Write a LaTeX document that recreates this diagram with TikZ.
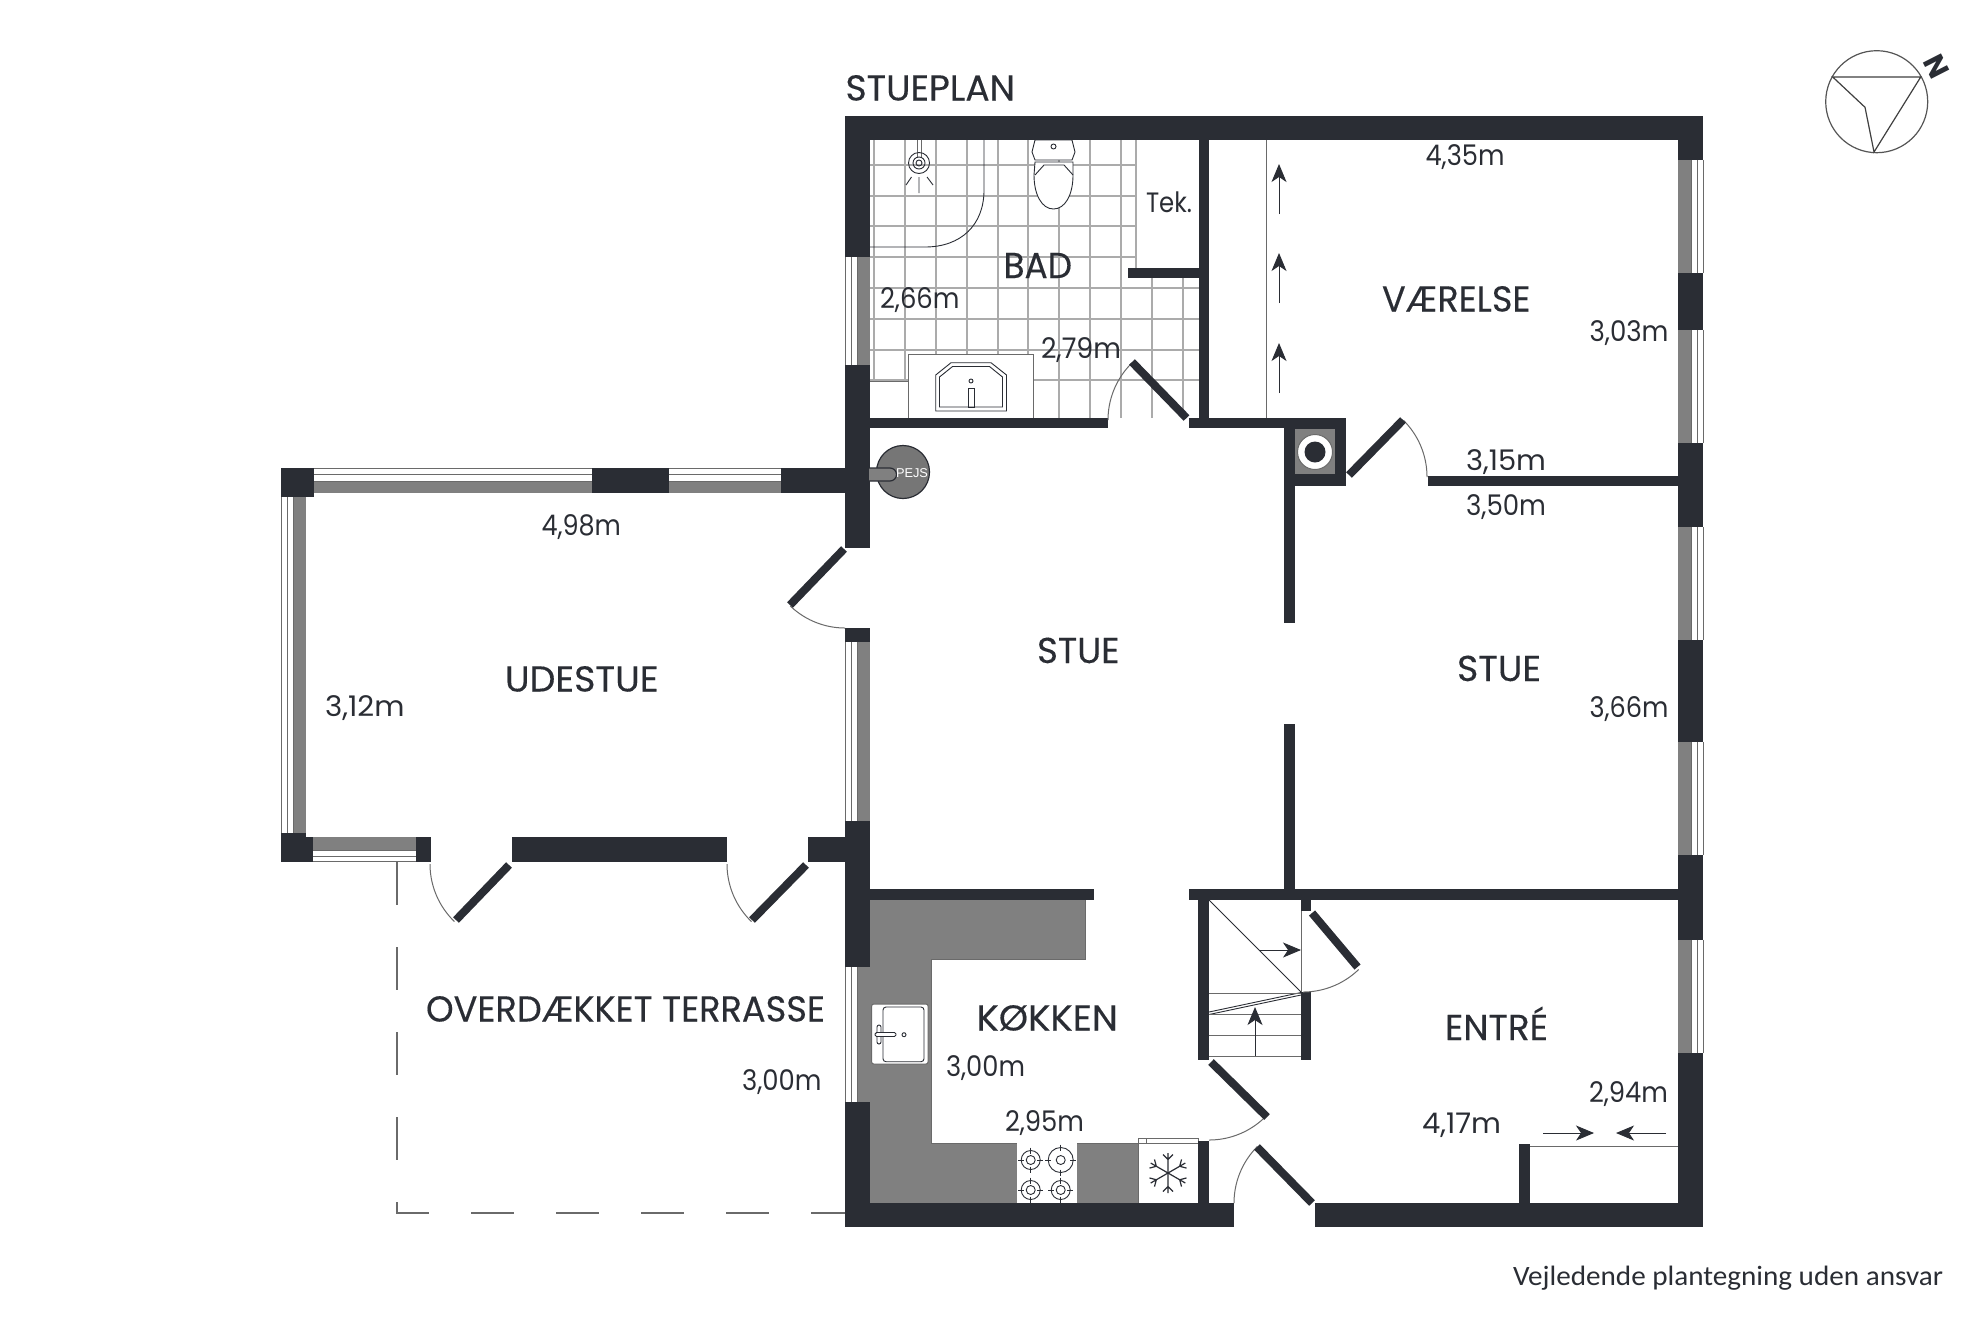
\documentclass[tikz,border=0pt]{standalone}
\usepackage{graphicx}
\usepackage{fontspec}
\setmainfont{Poppins}
\newfontfamily\footfont{Carlito}
\newfontfamily\arialfont{Liberation Sans}
\usetikzlibrary{arrows.meta}
\definecolor{wallc}{HTML}{2A2D34}
\definecolor{greyc}{HTML}{808080}
\definecolor{linec}{HTML}{6A6A6A}
\definecolor{tilec}{HTML}{ABABAB}
\newcommand{\hv}{\addfontfeature{FakeBold=0.3}}
\newsavebox\fitbox
% name, left x, right x, baseline y, font size, text
\newcommand{\lab}[6]{%
  \node[inner sep=0pt,outer sep=0pt,anchor=base west] (#1) at (#2,#4) {%
  \sbox\fitbox{\fontsize{#5}{#5}\selectfont\color{wallc}#6}%
  \pgfmathsetmacro\fitfac{(#3-#2)*0.5/\wd\fitbox}%
  \scalebox{\fitfac}[1]{\usebox\fitbox}};}
\newcommand{\wl}[4]{\fill[wallc] (#1,#2) rectangle (#3,#4);}
% vertical window: y1,y2, grey x1,x2, three line xs
\newcommand{\vwin}[7]{\fill[greyc] (#3,#1) rectangle (#4,#2);
  \draw[thinl] (#5,#1)--(#5,#2) (#6,#1)--(#6,#2) (#7,#1)--(#7,#2);}
% horizontal window: x1,x2, grey y1,y2, three line ys
\newcommand{\hwin}[7]{\fill[greyc] (#1,#3) rectangle (#2,#4);
  \draw[thinl] (#1,#5)--(#2,#5) (#1,#6)--(#2,#6) (#1,#7)--(#2,#7);}
% door swing: hinge cx,cy, from angle, to angle, radius
\newcommand{\swing}[5]{%
  \draw[thinl] plot[domain=#3:#4,samples=24,smooth] ({#1+#5*cos(\x)},{#2+#5*sin(\x)});}
\tikzset{
  thinl/.style={draw=linec,line width=0.5pt},
  darkl/.style={draw=wallc,line width=0.45pt},
  leaf/.style={draw=wallc,line width=4pt,line cap=butt},
  tile/.style={draw=tilec,line width=0.55pt},
  arr/.style={draw=wallc,line width=0.45pt,-{Stealth[length=9pt,width=7.5pt,inset=2.5pt,fill=wallc]}},
}
\begin{document}
\begin{tikzpicture}[x=0.5pt,y=-0.5pt]
\useasboundingbox (0,0) rectangle (1984,1323);
\fill[white] (0,0) rectangle (1984,1323);

% ---- bathroom tiles
\foreach \gx in {874,905,936,967,998,1028,1059,1090,1121} \draw[tile] (\gx,140)--(\gx,418);
\foreach \gx in {1152,1183} \draw[tile] (\gx,278)--(\gx,418);
\foreach \gy in {165,196,226,257} \draw[tile] (870,\gy)--(1136,\gy);
\foreach \gy in {288,319,350,380} \draw[tile] (870,\gy)--(1199,\gy);
\draw[tile] (1136,140)--(1136,268);
\fill[white] (870,381) rectangle (908,418);
\fill[white] (908,354) rectangle (1033,418);
\draw[thinl] (870,381)--(908,381) (908,418)--(908,354)--(1033,354)--(1033,418);
% shower
\draw[darkl] (870,247)--(925,247) .. controls (961,247) and (984,225) .. (984,190) -- (984,140);
\draw[thinl] (917,140)--(917,158) (921,140)--(921,158);
\draw[darkl] (919,163) circle[radius=10.5];
\draw[darkl] (919,163) circle[radius=6];
\draw[darkl] (919,163) circle[radius=3];
\draw[darkl] (919,177)--(919,193) (911.5,177)--(906,185) (927,177)--(933,185);
% toilet
\draw[darkl,fill=white] (1035,140)--(1032,152)--(1035,160)--(1072,160)--(1075,152)--(1072,140)--cycle;
\draw[darkl] (1053.5,146.5) circle[radius=2.5];
\draw[darkl,fill=white] (1035,162)--(1073,162)--(1073,175) .. controls (1073,195) and (1065,209) .. (1053.5,209) .. controls (1042,209) and (1034,195) .. (1034,175) -- cycle;
\draw[darkl] (1035,175)--(1044,165)--(1064,165)--(1073,175);
% basin
\draw[darkl] (935.7,375)--(951,362.7)--(991,362.7)--(1006.5,375)--(1006.5,411)--(935.7,411)--cycle;
\draw[darkl] (939.5,377)--(952.5,366.5)--(989.5,366.5)--(1002.5,377)--(1002.5,407)--(939.5,407)--cycle;
\draw[darkl] (968,388) rectangle (974,407);
\draw[darkl] (971,381) circle[radius=2];

% ---- kitchen
\fill[greyc] (870,900)--(1085,900)--(1085,959)--(931,959)--(931,1143)--(1198,1143)--(1198,1203)--(870,1203)--cycle;
\draw[thinl] (1085,900)--(1085,959)--(931,959)--(931,1143)--(1198,1143);
\fill[white] (1017,1143) rectangle (1077,1203);
\fill[white] (1138,1143) rectangle (1198,1203);
\draw[thinl] (1138,1138) rectangle (1198,1143);
\draw[thinl] (1146,1138)--(1146,1143);
\draw[thinl] (1138,1143)--(1138,1203);
% sink
\draw[thinl,fill=white,rounded corners=1pt] (871.7,1004) rectangle (928,1064);
\draw[darkl,rounded corners=1.5pt] (883,1007) rectangle (924,1061.7);
\draw[darkl,fill=white,rounded corners=1pt] (877,1025) rectangle (881,1044);
\draw[darkl,fill=white,rounded corners=0.8pt] (875,1032.5) rectangle (896,1036.5);
\draw[darkl] (904,1034.7) circle[radius=2];
% stove
\foreach \bx/\by/\br in {1030.7/1160/9.5,1060.7/1160/12.5,1030.7/1190/9.5,1060.7/1190/9.5}{
  \draw[darkl] (\bx,\by) circle[radius=\br];
  \draw[darkl] (\bx,\by) circle[radius=4.5];
  \draw[darkl] ({\bx-\br-3},\by)--({\bx-\br+3},\by) ({\bx+\br-3},\by)--({\bx+\br+3},\by)
     (\bx,{\by-\br-3})--(\bx,{\by-\br+3}) (\bx,{\by+\br-3})--(\bx,{\by+\br+3});
}
% snowflake
\begin{scope}[shift={(1168,1173)}]
\foreach \ang in {0,60,120,180,240,300}{
  \draw[wallc,line width=0.6pt,rotate=\ang] (0,0)--(0,20) (-5,18.5)--(0,13.5)--(5,18.5);
}
\end{scope}

% ---- stairs
\draw[darkl] (1209,900)--(1301,992);
\draw[thinl] (1301,911)--(1301,992);
\draw[arr] (1259,950)--(1301,950);
\draw[darkl] (1209,1012)--(1301,992.5) (1209,1014.5)--(1301,995);
\foreach \sy in {993,1014,1035,1056} \draw[thinl] (1209,\sy)--(1301,\sy);
\draw[arr] (1255,1056)--(1255,1007);

% ---- room details
\draw[thinl] (1266,140)--(1266,418);
\draw[arr] (1279,214)--(1279,164);
\draw[arr] (1279,303)--(1279,253);
\draw[arr] (1279,393)--(1279,343);
\draw[thinl] (1530,1146)--(1679,1146);
\draw[arr] (1543,1133)--(1594,1133);
\draw[arr] (1666,1133)--(1616,1133);

% ---- terrace dashed outline
\draw[draw=linec,line width=0.6pt,dash pattern=on 21.4pt off 21.1pt] (397,862)--(397,1213)--(845,1213);

% ---- main outer walls
\wl{845}{116}{1703}{140}
\wl{1678}{140}{1703}{160}
\vwin{160}{273}{1678}{1691}{1691.5}{1697.5}{1703}
\wl{1678}{273}{1703}{330}
\vwin{330}{443}{1678}{1691}{1691.5}{1697.5}{1703}
\wl{1678}{443}{1703}{527}
\vwin{527}{640}{1678}{1691}{1691.5}{1697.5}{1703}
\wl{1678}{640}{1703}{742}
\vwin{742}{855}{1678}{1691}{1691.5}{1697.5}{1703}
\wl{1678}{855}{1703}{940}
\vwin{940}{1053}{1678}{1691}{1691.5}{1697.5}{1703}
\wl{1678}{1053}{1703}{1227}
\wl{845}{1203}{1234}{1227}
\wl{1315}{1203}{1703}{1227}
% left wall
\wl{845}{140}{870}{257}
\vwin{257}{365}{858}{870}{845.5}{851.5}{857.5}
\wl{845}{365}{870}{548}
\wl{845}{628}{870}{642}
\vwin{642}{821}{858}{870}{845.5}{851.5}{857.5}
\wl{845}{821}{870}{967}
\vwin{967}{1102}{858}{870}{845.5}{851.5}{857.5}
\wl{845}{1102}{870}{1203}

% ---- udestue walls
\wl{281}{468}{314}{497}
\hwin{314}{592}{481}{493}{468.5}{474.5}{481}
\wl{592}{468}{669}{493}
\hwin{669}{781}{481}{493}{468.5}{474.5}{481}
\wl{781}{468}{845}{493}
\vwin{497}{833}{294}{306}{281.5}{287.5}{293.5}
\wl{281}{833}{306}{837}
\wl{281}{837}{313}{862}
\hwin{313}{416}{837}{850}{850}{856}{861.5}
\wl{416}{837}{431}{862}
\wl{511.5}{837}{726.5}{862}
\wl{807.5}{837}{845}{862}

% ---- inner walls
\wl{1198.5}{140}{1208.5}{418}
\wl{1128}{268}{1199}{278}
\wl{870}{418}{1108}{428}
\wl{1189}{418}{1284}{428}
\wl{1284}{418}{1346}{486}
\fill[greyc] (1295,429) rectangle (1335,474);
\fill[white] (1315,452) circle[radius=17.5];
\draw[thinl] (1315,452) circle[radius=17.5];
\fill[wallc] (1315,452) circle[radius=10.5];
\wl{1428}{476}{1678}{486}
\wl{1284}{486}{1294.7}{622.7}
\wl{1284}{724}{1294.7}{889.3}
\wl{870}{889.3}{1094}{900}
\wl{1188.7}{889.3}{1678}{900}
\wl{1198}{900}{1209}{1060}
\wl{1300.7}{900}{1311}{911}
\wl{1300.7}{992}{1311}{1060}
\wl{1198}{1141}{1209}{1203}
\wl{1519}{1144}{1530}{1203}

% ---- doors
\swing{510}{864}{180}{134}{80}
\draw[leaf] (509,865)--(456,920);
\swing{807}{864}{180}{134}{80}
\draw[leaf] (806,865)--(752,920);
\swing{845}{549}{90}{134}{79}
\draw[leaf] (844,549)--(790,605);
\swing{1188}{420}{180}{226}{80}
\draw[leaf] (1186.5,418)--(1132,362);
\swing{1347}{477}{-45}{0}{80}
\draw[leaf] (1349,475)--(1403,420);
\swing{1209}{1060}{90}{45}{80}
\draw[leaf] (1211,1062)--(1267,1117);
\swing{1314}{1203}{180}{225}{80}
\draw[leaf] (1312,1203)--(1257,1147);
\swing{1303}{912}{90}{46}{80}
\draw[leaf] (1312,913)--(1357.5,967);

% ---- fireplace
\draw[draw=wallc,line width=0.6pt,fill=greyc!92!black] (903,472) circle[radius=26.5];
\draw[draw=wallc,line width=0.6pt,fill=greyc] (866,468) -- (890,468) arc[start angle=-90,end angle=90,radius=6.5] -- (866,481) -- cycle;
\fill[wallc] (845,462) rectangle (869,487);
\node[inner sep=0pt,text=white] (pejs) at (912,473.5) {\arialfont\fontsize{6.4pt}{6.4pt}\selectfont PEJS};

% ---- compass
\draw[draw=linec!80!black,line width=0.6pt] (1876.7,101.7) circle[radius=51];
\draw[draw=linec!60!black,line width=0.6pt] (1832.7,77)--(1920.7,77)--(1874,152)--(1865,107.3)--cycle;
\node[inner sep=0pt,text=wallc,rotate=-63] (north) at (1936.7,67) {\fontseries{b}\fontsize{14.5pt}{14.5pt}\selectfont N};

% ---- labels
\lab{stueplan}{845.5}{1015}{100.5}{18pt}{\hv STUEPLAN}
\lab{bad}{1003.5}{1072}{278}{18pt}{\hv BAD}
\lab{tek}{1146}{1192}{212}{14pt}{Tek.}
\lab{d266}{880}{959.5}{308}{14.2pt}{2,66m}
\lab{d279}{1041}{1121}{358}{14.2pt}{2,79m}
\lab{d435}{1425.5}{1504.5}{165}{14.2pt}{4,35m}
\lab{vaer}{1382}{1530.5}{311.5}{18pt}{\hv VÆRELSE}
\lab{d303}{1589.5}{1668.5}{341}{14.2pt}{3,03m}
\lab{d315}{1466}{1546}{470.5}{14.2pt}{3,15m}
\lab{d350}{1466}{1546}{515}{14.2pt}{3,50m}
\lab{d498}{541.5}{621}{535}{14.2pt}{4,98m}
\lab{udestue}{505}{658.5}{691.5}{18pt}{\hv UDESTUE}
\lab{d312}{325}{404.5}{716}{14.2pt}{3,12m}
\lab{stuea}{1037}{1119.5}{663}{18pt}{\hv STUE}
\lab{stueb}{1457}{1541}{681}{18pt}{\hv STUE}
\lab{d366}{1589.5}{1668.5}{717}{14.2pt}{3,66m}
\lab{terr}{426}{825}{1021.5}{18pt}{\hv OVERDÆKKET TERRASSE}
\lab{d300a}{742}{821.5}{1090}{14.2pt}{3,00m}
\lab{kok}{976.5}{1118}{1030.5}{18pt}{\hv KØKKEN}
\lab{d300b}{946}{1025}{1076}{14.2pt}{3,00m}
\lab{d295}{1005}{1084}{1131}{14.2pt}{2,95m}
\lab{entre}{1445}{1548}{1040}{18pt}{\hv ENTRÉ}
\lab{d294}{1589}{1668}{1102}{14.2pt}{2,94m}
\lab{d417}{1422}{1501}{1133.5}{14.2pt}{4,17m}
\lab{foot}{1513}{1943}{1285}{14pt}{\footfont Vejledende plantegning uden ansvar}
\end{tikzpicture}
\end{document}
